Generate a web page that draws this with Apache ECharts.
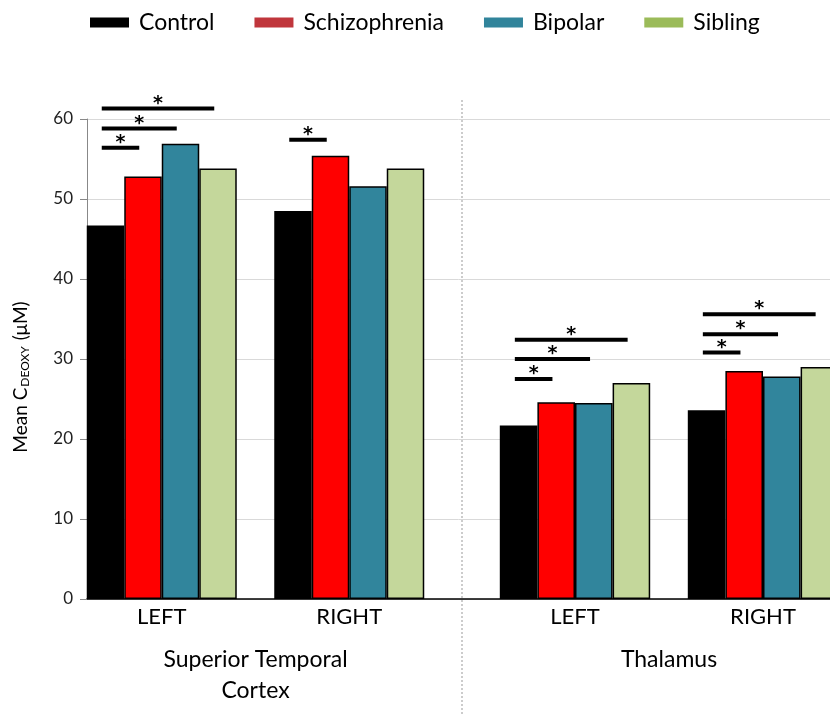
<!DOCTYPE html>
<html>
<head>
<meta charset="utf-8">
<script src="https://cdn.jsdelivr.net/npm/echarts@6/dist/echarts.min.js"></script>
<style>html,body{margin:0;padding:0;background:#fff}#main{width:830px;height:716px}</style>
</head>
<body>
<div id="main"></div>
<script>
// ---- data ----
const categories = ['LEFT', 'RIGHT'];
const regions = ['Superior Temporal\nCortex', 'Thalamus'];
const seriesNames = ['Control', 'Schizophrenia', 'Bipolar', 'Sibling'];
// values: [STC LEFT, STC RIGHT, Thalamus LEFT, Thalamus RIGHT]
const control = [46.7, 48.5, 21.7, 23.6];
const schizophrenia = [52.8, 55.4, 24.6, 28.5];
const bipolar = [56.9, 51.6, 24.5, 27.8];
const sibling = [53.8, 53.8, 27.0, 29.0];
const yTicks = [0, 10, 20, 30, 40, 50, 60];
// significance comparisons (Control vs group): group index (0..3), compared series index, bracket level
const sigGroup = [0, 0, 0, 1, 2, 2, 2, 3, 3, 3];
const sigTarget = [1, 2, 3, 1, 1, 2, 3, 1, 2, 3];
const sigLevel = [56.4, 58.8, 61.3, 57.4, 27.5, 30.0, 32.4, 30.8, 33.1, 35.6];

// ---- styles ----
const barColors = ['#000000', '#ff0000', '#31859c', '#c4d79b'];
const legendColors = ['#000000', '#c0363c', '#31849b', '#9bbb59'];
const FONT = 'Lato';
const allValues = [control, schizophrenia, bipolar, sibling];

const chart = echarts.init(document.getElementById('main'));

const series = [];
seriesNames.forEach((name, s) => {
  [0, 1].forEach(g => {
    series.push({
      type: 'bar', name: name, xAxisIndex: g, yAxisIndex: g,
      data: allValues[s].slice(2 * g, 2 * g + 2),
      barGap: '0%', barCategoryGap: '20%',
      itemStyle: { color: barColors[s], borderColor: '#000', borderWidth: 1.5 },
      emphasis: { disabled: true }
    });
  });
});

function renderSig(params, api) {
  const c = api.coord([api.value(0), api.value(2)]);
  const catW = api.size([1, 0])[0];
  const bw = catW * 0.8 / 4;
  const left = c[0] - 2 * bw;
  const x1 = left + 0.4 * bw;
  const x2 = left + (api.value(1) + 0.4) * bw;
  return {
    type: 'group',
    children: [
      { type: 'line', shape: { x1: x1, y1: c[1], x2: x2, y2: c[1] }, style: { stroke: '#000', lineWidth: 4 } },
      { type: 'text', style: { text: '*', x: (x1 + x2) / 2, y: c[1] - 5, align: 'center', verticalAlign: 'middle', font: 'bold 19px "DejaVu Sans"', fill: '#000' } }
    ]
  };
}

[0, 1].forEach(g => {
  const data = [];
  sigGroup.forEach((grp, i) => {
    if (Math.floor(grp / 2) === g) data.push([grp % 2, sigTarget[i], sigLevel[i]]);
  });
  series.push({
    type: 'custom', xAxisIndex: g, yAxisIndex: g, silent: true, z: 5, clip: false,
    encode: { x: 0, y: 2 }, data: data, renderItem: renderSig
  });
});

const catAxis = (g) => ({
  gridIndex: g, type: 'category', data: categories,
  axisLine: { show: false }, axisTick: { show: false },
  axisLabel: { fontSize: 22, margin: 7, color: '#000', fontFamily: FONT },
  name: regions[g], nameLocation: 'middle', nameGap: 45,
  nameTextStyle: { fontSize: 23, lineHeight: 31, color: '#000', fontFamily: FONT, verticalAlign: 'top' }
});

chart.setOption({
  backgroundColor: '#fff',
  animation: false,
  legend: {
    left: 90, top: 11, padding: 0, itemWidth: 39, itemHeight: 10, itemGap: 40, icon: 'rect',
    textStyle: { fontSize: 23, color: '#000', fontFamily: FONT, padding: [0, 0, 0, 5] },
    data: seriesNames.map((n, i) => ({ name: n, itemStyle: { color: legendColors[i], borderWidth: 0 } }))
  },
  grid: [
    { left: 68, width: 375, top: 119, bottom: 117, outerBoundsMode: 'none', containLabel: false },
    { left: 481, width: 376, top: 119, bottom: 117, outerBoundsMode: 'none', containLabel: false },
    { left: 87, right: 0, top: 119, bottom: 117, outerBoundsMode: 'none', containLabel: false }
  ],
  xAxis: [
    catAxis(0), catAxis(1),
    { gridIndex: 2, type: 'value', min: 0, max: 1, axisLabel: { show: false }, axisTick: { show: false },
      splitLine: { show: false }, axisLine: { show: true, lineStyle: { color: '#000', width: 1.5 } } }
  ],
  yAxis: [
    { gridIndex: 0, type: 'value', min: 0, max: 60, show: false },
    { gridIndex: 1, type: 'value', min: 0, max: 60, show: false },
    { gridIndex: 2, type: 'value', min: yTicks[0], max: yTicks[yTicks.length - 1], interval: 10,
      axisLine: { show: true, lineStyle: { color: '#888' } },
      axisTick: { show: true, length: 7, lineStyle: { color: '#888' } },
      axisLabel: { fontSize: 17, margin: 14, color: '#222', fontFamily: FONT },
      splitLine: { show: true, lineStyle: { color: '#d9d9d9', width: 1 } },
      name: 'Mean C{s|DEOXY} (μM)', nameLocation: 'middle', nameGap: 56, nameRotate: 90,
      nameTextStyle: { fontSize: 19, color: '#000', fontFamily: FONT, padding: [0, 36, 0, 0],
        rich: { s: { fontSize: 12, fontFamily: FONT, color: '#000', padding: [9, 1, 0, 1] } } }
    }
  ],
  graphic: [
    { type: 'line', z: 0, shape: { x1: 462, y1: 100, x2: 462, y2: 716 }, style: { stroke: '#999', lineWidth: 1, lineDash: [2, 2] } }
  ],
  series: series
});
</script>
</body>
</html>
